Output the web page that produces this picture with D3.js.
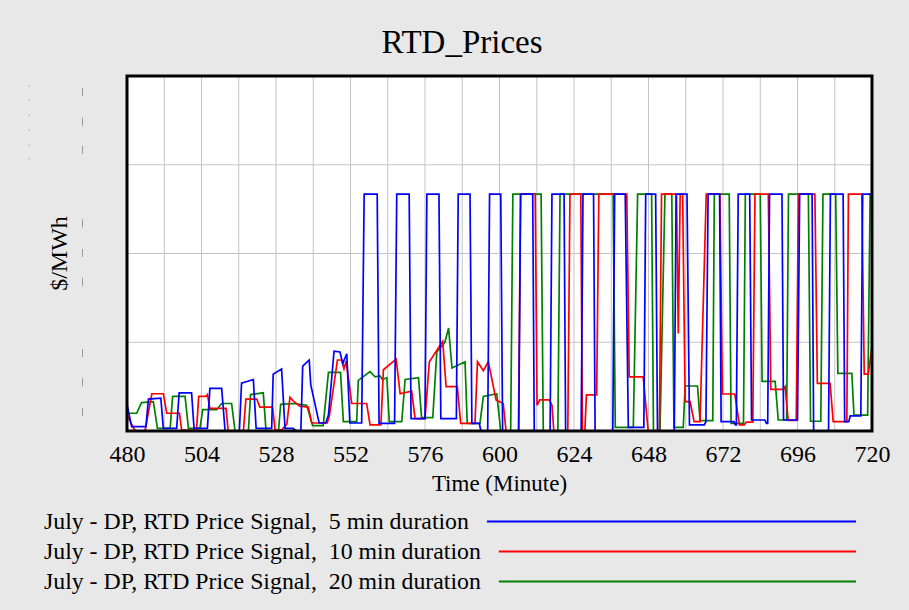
<!DOCTYPE html>
<html>
<head>
<meta charset="utf-8">
<script src="https://cdn.jsdelivr.net/npm/d3@7"></script>
<style>
  html, body { margin: 0; padding: 0; background: #e8e8e8; }
  svg { display: block; }
  text { font-family: "Liberation Serif", "Times New Roman", serif; fill: #000; }
</style>
</head>
<body>
<svg id="chart" width="909" height="610"></svg>
<script>
// ---- data: RTD price signal, [minute, $/MWh] breakpoints ----
const xTickValues = [480, 504, 528, 552, 576, 600, 624, 648, 672, 696, 720];
const seriesNames = [
  "July - DP, RTD Price Signal,  5 min duration",
  "July - DP, RTD Price Signal,  10 min duration",
  "July - DP, RTD Price Signal,  20 min duration"
];
const seriesColors = ["#0000ff", "#ff0000", "#008000"];

const price5min = [
  [480,30],[481.5,5],[486.1,5],[486.9,36],[490.9,37],[491.7,3],[496,3],[496.8,43],[500.8,43],[501.6,3],
  [505.9,3],[506.7,48],[510.5,48],[511.6,0],[516.2,0],[516.9,54],[520.7,58],[521.6,3],[526.6,3],[527.1,64],
  [529.8,70],[530.9,3],[533.5,3],[534.5,0],[536,0],[536.6,73],[538.7,80],[539.2,52],[541.9,9],[544,9],
  [544.9,18],[546.7,90],[548.6,89],[549.5,76],[550.8,87],[551.8,9],[555.6,9],
  [556.4,267],[560.6,267],[561.2,8.6],[566.2,8.6],
  [566.9,267],[570.9,267],[571.5,14],[576,14],
  [576.6,267],[580.5,267],[581.1,14],[586.1,14],
  [586.7,267],[590.5,267],[591.1,8.6],[593.5,8.6],[594,0],[596.2,0],
  [596.8,267],[600.4,267],[601,0],[606.2,0],
  [606.8,267],[610.7,267],[611.2,0],[616.3,0],
  [616.9,267],[620.8,267],[621.3,0],[626.3,0],
  [626.9,267],[630.3,267],[630.8,0],[636.5,0],
  [637.1,267],[640.5,267],[641.5,4],[646.5,4],
  [647.1,267],[650.3,267],[650.9,0],[656.3,0],
  [656.9,267],[660.4,267],[661.2,6.8],[666,6.8],[666.5,10.5],
  [667.2,267],[670.9,267],[671.4,10.5],[675.5,10.5],[676,6.8],[676.3,6.8],
  [676.9,267],[680.6,267],[681.2,12.4],[685.5,12.4],[686,8.6],[686.4,8.6],
  [687,267],[691,267],[691.5,12.4],[696,12.4],
  [696.7,267],[700.7,267],[701.2,0],[706,0],
  [706.6,267],[710.7,267],[711.2,10.5],[712.5,10.5],[713,17],[716.4,17],
  [717,267],[720,267]
];

const price10min = [
  [480,18],[482.6,0],[485.8,0],[488,42],[491.7,42],[492.8,20],[496.9,20],[497.6,1],[502.4,1],[503.1,39],
  [505.4,39],[505.9,41],[506.7,25.5],[511.9,25.5],[512.6,0],[517.5,0],[518.3,36],[521.8,36],[522.8,27],[526.9,27],
  [527.7,1],[529.8,1],[531.5,8],[532.5,38],[533.5,34],[535.7,28],[538.4,27],[539.5,9],[544.5,9],[545.2,17],
  [547.8,80],[549.2,80],[549.9,70],[550.6,79],[552.4,31],[557.2,31],[558.3,7],[561.8,7],[562.6,69],[566.7,81],
  [568,42],[571.7,45],[572.8,14],[576,14],[577.4,78],[581.7,101],[582.8,50],[586.4,50],[587.5,8.6],[592.1,8.6],
  [592.9,78],[594.8,68],[596.4,78],[598.9,35],[601.2,31],[602.1,0],[606.1,0],
  [606.8,267],[611.5,267],[612.1,29],[613,35],[616,35],[616.9,29],[617.5,0],[622,0],
  [622.7,267],[626.2,267],[626.7,0],[627.5,0],[628,40.6],[631.3,40.6],
  [632,267],[641,267],[641.8,61],[646.3,61],[647.9,0],[651.5,0],
  [652.2,267],[657,267],[657.6,110],[658.2,267],[659,267],[659.8,33],[661.4,33],[662.7,10.5],[664.6,10.5],
  [666.6,267],[671,267],[671.8,41.7],[675.8,41.7],[677.3,6.8],[678.8,6.8],[679.5,10],[681.6,10],
  [682.3,267],[686.6,267],[687.4,47],[691.4,47],[692,50],[693,12],[695.6,12],
  [696.3,267],[701.6,267],[702.4,53.7],[706.5,53.7],[707.5,10.5],[711.9,10.5],
  [712.4,267],[716.7,267],[717.5,64],[718.8,64],[720,95]
];

const price20min = [
  [480,20],[483.1,20],[484.7,32],[488.5,33],[489.8,3],[493.9,3],[494.7,39],[498.7,39],[499.8,3],[503.5,3],
  [504.4,24],[508.9,24],[510.5,31],[513.7,31],[514.8,0],[519.1,0],[519.8,41],[523.9,43],[524.8,0],[528.8,0],
  [529.5,30],[533.6,31],[537.9,29],[539.8,6],[543.2,6],[544.9,66],[548.8,66],[549.7,10.5],[554,10.5],[554.5,57],
  [558.3,67],[559.9,61],[561.5,62],[562.3,58],[563.7,60],[564.5,10.5],[568.5,10.5],[569.6,58],[573.9,60],[574.9,15],
  [578.5,15],[579.8,89],[582.4,100],[583.6,116],[584.7,71],[588.9,78],[589.6,8.6],[593.7,8.6],[594.8,39],[599.1,42],
  [600.4,0],[603.6,0],[604.3,267],[613.4,267],[614.1,0],[618.8,0],[619.5,267],[636.6,267],[637.3,4],[643.1,4],
  [644.5,267],[649,267],[649.6,0],[651.7,0],[653.3,267],[655.5,267],[656.2,4],[659.2,4],[659.8,50.7],[663.8,50.7],
  [664.6,11.6],[668.7,11.6],[669.2,267],[674,267],[674.6,8.6],[678.6,8.6],[679.2,267],[684,267],[684.6,56],[688.8,56],
  [689.8,12.4],[692.5,12.4],[693.1,267],[699.5,267],[700.2,11],[703.5,11],[704.2,267],[708.3,267],[709,65],[713.5,65],
  [714.2,18],[718.6,18],[719.4,267],[720,267]
];

const seriesData = [price5min, price10min, price20min];
// faint left-margin tick residue (in $/MWh)
const marginTicks = [382, 348.5, 316.6, 234, 200.6, 168, 87.9, 55, 21.4];
const marginDots = [389, 373, 356, 339, 322, 307];

// ---- layout ----
const W = 909, H = 610;
const plot = { left: 127, right: 872, top: 76, bottom: 431 };
const svg = d3.select("#chart");

svg.append("rect").attr("width", W).attr("height", H).attr("fill", "#e8e8e8");

const x = d3.scaleLinear().domain([480, 720]).range([plot.left, plot.right]);
const y = d3.scaleLinear().domain([0, 400]).range([plot.bottom, plot.top]);

svg.append("rect")
  .attr("x", plot.left).attr("y", plot.top)
  .attr("width", plot.right - plot.left).attr("height", plot.bottom - plot.top)
  .attr("fill", "#fff");

// grid
const grid = svg.append("g").attr("stroke", "#c4c4c4").attr("stroke-width", 1);
grid.selectAll("line.v").data(d3.range(492, 720, 12)).join("line")
  .attr("x1", d => x(d)).attr("x2", d => x(d))
  .attr("y1", plot.top).attr("y2", plot.bottom);
grid.selectAll("line.h").data([100, 200, 300]).join("line")
  .attr("x1", plot.left).attr("x2", plot.right)
  .attr("y1", d => y(d)).attr("y2", d => y(d));

// series
svg.append("clipPath").attr("id", "clip").append("rect")
  .attr("x", plot.left).attr("y", plot.top - 2)
  .attr("width", plot.right - plot.left).attr("height", plot.bottom - plot.top + 2);

const line = d3.line().x(d => x(d[0])).y(d => y(d[1]));
const drawOrder = [2, 1, 0];
svg.append("g").attr("clip-path", "url(#clip)")
  .selectAll("path").data(drawOrder).join("path")
  .attr("d", i => line(seriesData[i]))
  .attr("fill", "none")
  .attr("stroke", i => seriesColors[i])
  .attr("stroke-width", 1.7)
  .attr("stroke-linejoin", "miter");

// frame
svg.append("rect")
  .attr("x", plot.left).attr("y", plot.top)
  .attr("width", plot.right - plot.left).attr("height", plot.bottom - plot.top)
  .attr("fill", "none").attr("stroke", "#000").attr("stroke-width", 3);

// x axis labels
const xAxis = d3.axisBottom(x).tickValues(xTickValues).tickSize(0).tickPadding(0);
const gx = svg.append("g").attr("transform", `translate(0,${plot.bottom})`).call(xAxis);
gx.select(".domain").remove();
gx.selectAll("text")
  .attr("dy", null).attr("y", 31)
  .style("font-family", '"Liberation Serif", "Times New Roman", serif')
  .style("font-size", "24px").attr("fill", "#000");

// left-margin residue marks
svg.append("g").selectAll("line").data(marginTicks).join("line")
  .attr("x1", 82.5).attr("x2", 82.5)
  .attr("y1", d => y(d) - 4).attr("y2", d => y(d) + 4)
  .attr("stroke", "#9a9a9a").attr("stroke-width", 1);
svg.append("g").selectAll("rect").data(marginDots).join("rect")
  .attr("x", 28.5).attr("y", d => y(d) - 0.5)
  .attr("width", 1.2).attr("height", 1.2)
  .attr("fill", "#a0a0a0");

// titles
svg.append("text").attr("x", 462).attr("y", 53)
  .attr("text-anchor", "middle").style("font-size", "33px").text("RTD_Prices");
svg.append("text").attr("x", (plot.left + plot.right) / 2).attr("y", 491)
  .attr("text-anchor", "middle").style("font-size", "23px").text("Time (Minute)");
svg.append("text")
  .attr("transform", `translate(67,${(plot.top + plot.bottom) / 2}) rotate(-90)`)
  .attr("text-anchor", "middle").style("font-size", "24px").text("$/MWh");

// legend
const legend = svg.append("g");
seriesNames.forEach((name, i) => {
  const ty = 529 + i * 30;
  const t = legend.append("text").attr("x", 44).attr("y", ty)
    .attr("xml:space", "preserve").style("white-space", "pre")
    .style("font-size", "23.8px").text(name);
  const end = 44 + t.node().getComputedTextLength();
  legend.append("line")
    .attr("x1", end + 18).attr("x2", 856)
    .attr("y1", ty - 7.5).attr("y2", ty - 7.5)
    .attr("stroke", seriesColors[i]).attr("stroke-width", 2);
});
</script>
</body>
</html>
